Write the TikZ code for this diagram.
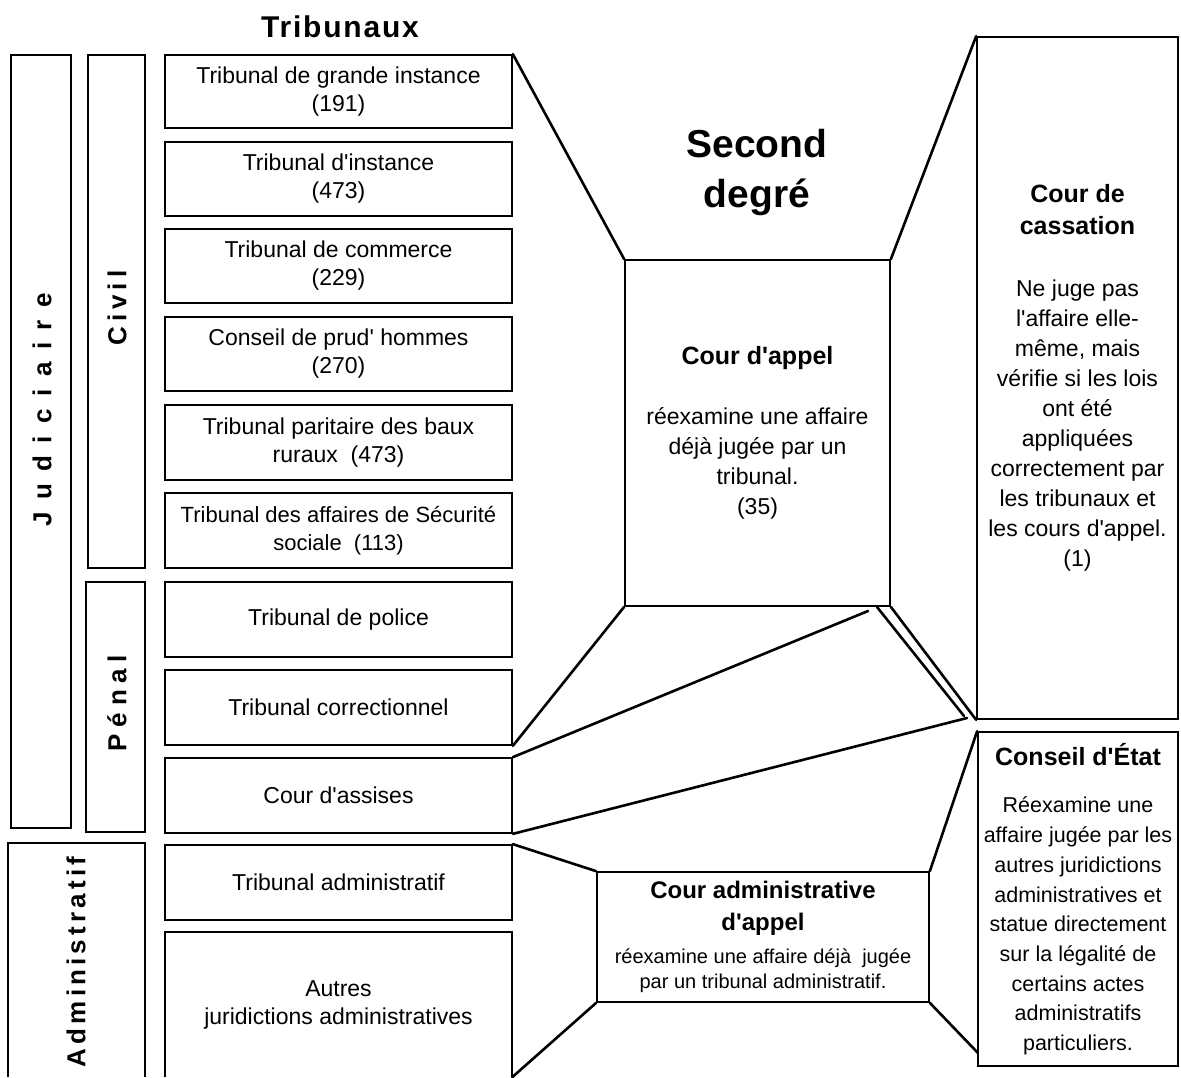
\documentclass[tikz,border=0pt]{standalone}
\usepackage{fontspec}
\setmainfont{Liberation Sans}
\newcommand\apos{\XeTeXglyph\XeTeXcharglyph"0027\relax}
\begin{document}
\begin{tikzpicture}[x=1pt,y=-1pt,
  box/.style={draw, line width=1.7pt, inner sep=0pt},
  obox/.style={inner sep=0pt},
  conn/.style={line width=2.6pt, line cap=round},
  body/.style={font=\fontsize{23}{28}\selectfont, align=center},
  lab/.style={font=\fontsize{26}{28}\selectfont\bfseries, inner sep=0pt}]
\useasboundingbox (0,0) rectangle (1181,1077);

% title
\node[font=\fontsize{30}{34}\selectfont\bfseries] (title) at (340,27) {\addfontfeature{LetterSpace=6}Tribunaux};

% category boxes
\node[box, minimum width=60pt, minimum height=773pt] (jud) at (41,441.5) {};
\node[box, minimum width=57pt, minimum height=513pt] (civ) at (116.5,311.5) {};
\node[box, minimum width=59pt, minimum height=250pt] (pen) at (115.5,707) {};
\node[obox, minimum width=137pt, minimum height=234pt] (adm) at (76.5,960) {};
\draw[line width=1.7pt] (adm.south west) -- (adm.north west) -- (adm.north east) -- (adm.south east);

\node[lab, rotate=90] (jl) at (42,410) {\addfontfeature{LetterSpace=48}Judiciaire};
\node[lab, rotate=90] (cl) at (117,308) {\addfontfeature{LetterSpace=19}Civil};
\node[lab, rotate=90] (pl) at (117,703) {\addfontfeature{LetterSpace=26}Pénal};
\node[lab, rotate=90] (al) at (76,962) {\addfontfeature{LetterSpace=16}Administratif};

% tribunal boxes
\node[box, body, minimum width=347pt, minimum height=73pt] (t1) at (338.5,91.5) {Tribunal de grande instance\\(191)};
\node[box, body, minimum width=347pt, minimum height=74pt] (t2) at (338.5,179) {Tribunal d\apos instance\\(473)};
\node[box, body, minimum width=347pt, minimum height=74pt] (t3) at (338.5,266) {Tribunal de commerce\\(229)};
\node[box, body, minimum width=347pt, minimum height=74pt] (t4) at (338.5,354) {Conseil de prud\apos{} hommes\\(270)};
\node[box, body, minimum width=347pt, minimum height=75pt] (t5) at (338.5,442.5) {Tribunal paritaire des baux\\ruraux\ \ (473)};
\node[box, body, minimum width=347pt, minimum height=75pt, font=\fontsize{22}{28}\selectfont] (t6) at (338.5,530.5) {Tribunal des affaires de Sécurité\\sociale\ \ (113)};
\node[box, body, minimum width=347pt, minimum height=75pt] (t7) at (338.5,619.5) {Tribunal de police};
\node[box, body, minimum width=347pt, minimum height=75pt] (t8) at (338.5,707.5) {Tribunal correctionnel};
\node[box, body, minimum width=347pt, minimum height=75pt] (t9) at (338.5,795.5) {Cour d\apos assises};
\node[box, body, minimum width=347pt, minimum height=75pt] (t10) at (338.5,882.5) {Tribunal administratif};
\node[obox, body, minimum width=347pt, minimum height=145pt] (t11) at (338.5,1004.5) {Autres\\juridictions administratives};
\draw[line width=1.7pt] (t11.south west) -- (t11.north west) -- (t11.north east) -- (t11.south east);

% second degree
\node[font=\fontsize{39}{50}\selectfont\bfseries, align=center] (sd) at (757,172) {Second\\degré};

\node[box, body, minimum width=265pt, minimum height=346pt, font=\fontsize{23}{30}\selectfont] (ca) at (757.5,433)
  {{\fontsize{25}{30}\selectfont\bfseries Cour d\apos appel}\\[30pt]réexamine une affaire\\déjà jugée par un\\tribunal.\\(35)};

\node[box, body, minimum width=201pt, minimum height=682pt, font=\fontsize{23}{30}\selectfont] (cass) at (1077.5,378)
  {{\fontsize{25}{30}\selectfont\bfseries Cour de}\\[2pt]{\fontsize{25}{30}\selectfont\bfseries cassation}\\[32pt]Ne juge pas\\l\apos affaire elle-\\même, mais\\vérifie si les lois\\ont été\\appliquées\\correctement par\\les tribunaux et\\les cours d\apos appel.\\(1)};

\node[box, body, minimum width=200pt, minimum height=334pt, font=\fontsize{21.5}{29.7}\selectfont] (ce) at (1078,899)
  {{\fontsize{25}{30}\selectfont\bfseries Conseil d\apos État}\\[18pt]Réexamine une\\affaire jugée par les\\autres juridictions\\administratives et\\statue directement\\sur la légalité de\\certains actes\\administratifs\\particuliers.};

\node[box, body, minimum width=332pt, minimum height=130pt, font=\fontsize{20}{25}\selectfont] (caa) at (763,937)
  {{\fontsize{24}{32}\selectfont\bfseries Cour administrative}\\[7pt]{\fontsize{24}{32}\selectfont\bfseries d\apos appel}\\[8pt]réexamine une affaire déjà\ \ jugée\\par un tribunal administratif.};

% free ends
\coordinate (pa) at (868,611);
\coordinate (pb) at (967,718);
\coordinate (ia) at (877,607);
\coordinate (ib) at (964,716);
\coordinate (ce1) at (978,1053);

% connectors
\draw[conn] (t1.north east) -- (ca.north west);
\draw[conn] (ca.north east) -- (cass.north west);
\draw[conn] (ca.south west) -- (t8.south east);
\draw[conn] (pa) -- (t9.north east);
\draw[conn] (pb) -- (t9.south east);
\draw[conn] (ca.south east) -- (cass.south west);
\draw[conn] (ia) -- (ib);
\draw[conn] (t10.north east) -- (caa.north west);
\draw[conn] (caa.south west) -- (t11.south east);
\draw[conn] (caa.north east) -- (ce.north west);
\draw[conn] (caa.south east) -- (ce1);
\end{tikzpicture}
\end{document}
